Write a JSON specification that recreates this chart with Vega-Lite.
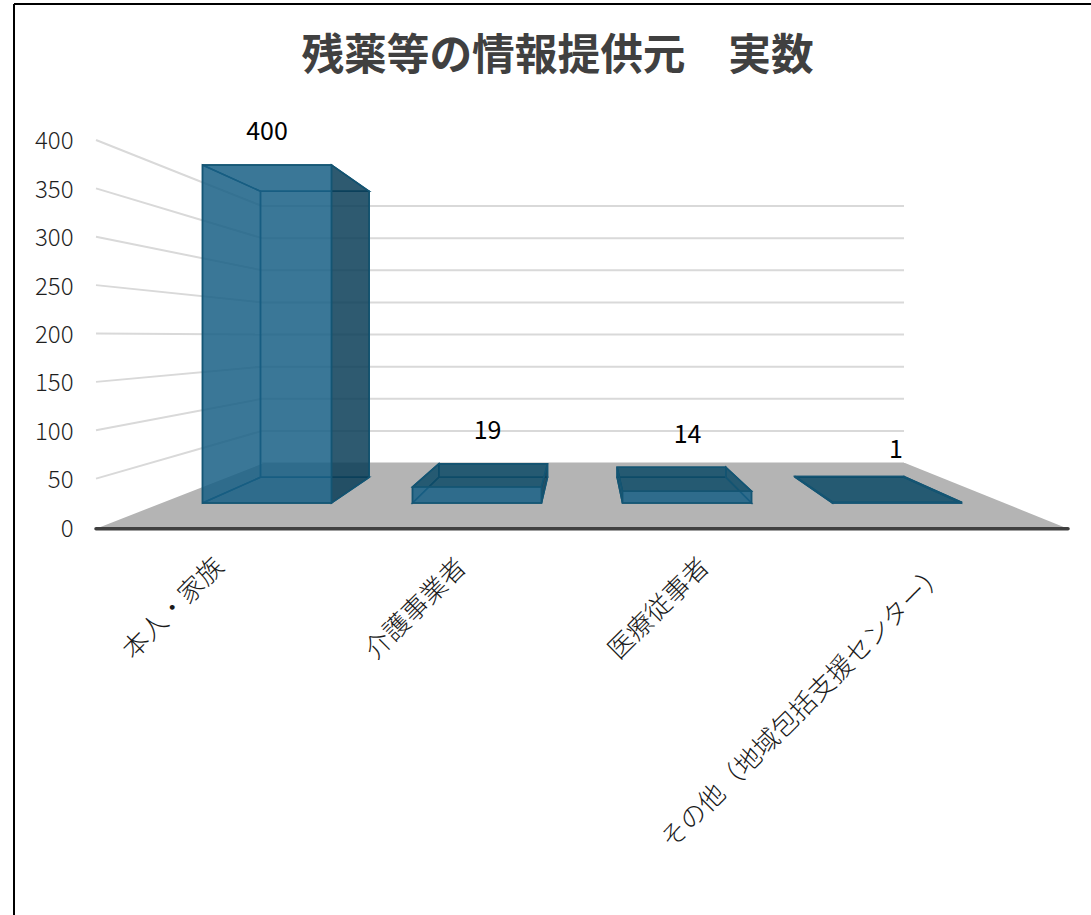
{
  "$schema": "https://vega.github.io/schema/vega-lite/v6.json",
  "width": 1091,
  "height": 915,
  "padding": 0,
  "autosize": "none",
  "background": "white",
  "view": {"stroke": null},
  "title": {
    "text": "残薬等の情報提供元　実数",
    "anchor": "middle",
    "frame": "group",
    "offset": -113,
    "dx": 12,
    "baseline": "alphabetic",
    "font": "Noto Sans CJK JP",
    "fontSize": 42.7,
    "fontWeight": "bold",
    "color": "#404040"
  },
  "resolve": {"axis": {"y": "independent"}},
  "data": {
    "values": [
      {"category": "本人・家族", "value": 400},
      {"category": "介護事業者", "value": 19},
      {"category": "医療従事者", "value": 14},
      {"category": "その他（地域包括支援センター）", "value": 1}
    ]
  },
  "transform": [
    {"window": [{"op": "row_number", "as": "n"}]},
    {"calculate": "datum.n - 1", "as": "i"},
    {"calculate": "[0, 1]", "as": "depth"},
    {"flatten": ["depth"]},
    {"calculate": "datum.depth == 0 ? 202.5 + 210 * datum.i : 260.5 + 178.3 * datum.i", "as": "xl"},
    {"calculate": "datum.xl + (datum.depth == 0 ? 129 : 108.7)", "as": "xr"},
    {"calculate": "datum.depth == 0 ? 24.81 : 51.37", "as": "base"},
    {"calculate": "datum.base + datum.value * (datum.depth == 0 ? 0.8734 : 0.739)", "as": "top"}
  ],
  "layer": [
    {
      "description": "Side wall gridlines running back from the value axis",
      "data": {"values": [{"tick": 50}, {"tick": 100}, {"tick": 150}, {"tick": 200}, {"tick": 250}, {"tick": 300}, {"tick": 350}, {"tick": 400}]},
      "transform": [
        {"calculate": "96", "as": "x0"},
        {"calculate": "262", "as": "x1"},
        {"calculate": "66.15 + 0.664 * datum.tick", "as": "backTick"}
      ],
      "mark": {"type": "rule", "stroke": "#d9d9d9", "strokeWidth": 2},
      "encoding": {
        "x": {"field": "x0", "type": "quantitative", "scale": {"domain": [0, 1091], "nice": false, "zero": false}, "axis": null},
        "x2": {"field": "x1"},
        "y": {
          "field": "tick",
          "type": "quantitative",
          "scale": {"domain": [-401.03, 544.7], "nice": false, "zero": false},
          "axis": {
            "title": null,
            "orient": "left",
            "values": [0, 50, 100, 150, 200, 250, 300, 350, 400],
            "domain": false,
            "ticks": false,
            "grid": false,
            "offset": -73,
            "labelPadding": 0,
            "labelOffset": 2,
            "labelFont": "Noto Sans CJK JP",
            "labelFontSize": 24,
            "labelFontWeight": 300,
            "labelColor": "#1f1f1f"
          }
        },
        "y2": {"field": "backTick"}
      }
    },
    {
      "description": "Back wall gridlines",
      "data": {"values": [{"tick": 0}, {"tick": 50}, {"tick": 100}, {"tick": 150}, {"tick": 200}, {"tick": 250}, {"tick": 300}, {"tick": 350}, {"tick": 400}]},
      "transform": [
        {"calculate": "262", "as": "x0"},
        {"calculate": "904", "as": "x1"},
        {"calculate": "66.15 + 0.664 * datum.tick", "as": "backTick"}
      ],
      "mark": {"type": "rule", "stroke": "#d9d9d9", "strokeWidth": 2},
      "encoding": {
        "x": {"field": "x0", "type": "quantitative", "scale": {"domain": [0, 1091], "nice": false, "zero": false}, "axis": null},
        "x2": {"field": "x1"},
        "y": {"field": "backTick", "type": "quantitative", "scale": {"domain": [-401.03, 544.7], "nice": false, "zero": false}, "axis": null}
      }
    },
    {
      "description": "Grey floor of the box",
      "data": {"values": [{"depth": 0}, {"depth": 1}]},
      "transform": [
        {"calculate": "datum.depth == 0 ? 96 : 264", "as": "xl"},
        {"calculate": "datum.depth == 0 ? 1068 : 905", "as": "xr"},
        {"calculate": "datum.depth == 0 ? -1.8 : 66.15", "as": "level"}
      ],
      "mark": {"type": "area", "orient": "horizontal", "fill": "#b4b4b4"},
      "encoding": {
        "y": {"field": "level", "type": "quantitative", "scale": {"domain": [-401.03, 544.7], "nice": false, "zero": false}, "axis": null},
        "x": {"field": "xl", "type": "quantitative", "scale": {"domain": [0, 1091], "nice": false, "zero": false}, "axis": null},
        "x2": {"field": "xr"}
      }
    },
    {
      "description": "Front edge of the floor",
      "data": {"values": [{"edge": "front"}]},
      "transform": [
        {"calculate": "96", "as": "x0"},
        {"calculate": "1068", "as": "x1"},
        {"calculate": "-1.8", "as": "level"}
      ],
      "mark": {"type": "rule", "stroke": "#404040", "strokeWidth": 3.5, "strokeCap": "round"},
      "encoding": {
        "x": {"field": "x0", "type": "quantitative", "scale": {"domain": [0, 1091], "nice": false, "zero": false}, "axis": null},
        "x2": {"field": "x1"},
        "y": {"field": "level", "type": "quantitative", "scale": {"domain": [-401.03, 544.7], "nice": false, "zero": false}, "axis": null}
      }
    },
    {
      "description": "Bottom edges of each column",
      "mark": {"type": "area", "orient": "horizontal", "fillOpacity": 0, "fill": "#185f85", "stroke": "#145573", "strokeWidth": 1.5},
      "encoding": {
        "detail": {"field": "category"},
        "y": {"field": "base", "type": "quantitative", "scale": {"domain": [-401.03, 544.7], "nice": false, "zero": false}, "axis": null},
        "x": {"field": "xl", "type": "quantitative", "scale": {"domain": [0, 1091], "nice": false, "zero": false}, "axis": null},
        "x2": {"field": "xr"}
      }
    },
    {
      "description": "Back face outline of each column",
      "transform": [{"filter": "datum.depth == 1"}],
      "mark": {"type": "rect", "fillOpacity": 0, "stroke": "#145573", "strokeWidth": 1.5},
      "encoding": {
        "x": {"field": "xl", "type": "quantitative", "scale": {"domain": [0, 1091], "nice": false, "zero": false}, "axis": null},
        "x2": {"field": "xr"},
        "y": {"field": "base", "type": "quantitative", "scale": {"domain": [-401.03, 544.7], "nice": false, "zero": false}, "axis": null},
        "y2": {"field": "top"}
      }
    },
    {
      "description": "Left face of each column, shaded only where it shows beside a short column",
      "mark": {"type": "area", "fill": "#0c4a66", "stroke": "#145573", "strokeWidth": 1.5},
      "encoding": {
        "detail": {"field": "category"},
        "x": {"field": "xl", "type": "quantitative", "scale": {"domain": [0, 1091], "nice": false, "zero": false}, "axis": null},
        "y": {"field": "base", "type": "quantitative", "scale": {"domain": [-401.03, 544.7], "nice": false, "zero": false}, "axis": null},
        "y2": {"field": "top"},
        "fillOpacity": {"condition": {"test": "datum.i == 2", "value": 0.85}, "value": 0}
      }
    },
    {
      "description": "Top face of each column; on the tall column it sits inside the front and side faces",
      "mark": {"type": "area", "orient": "horizontal", "fill": "#0c4a66", "stroke": "#145573", "strokeWidth": 1.5},
      "encoding": {
        "detail": {"field": "category"},
        "y": {"field": "top", "type": "quantitative", "scale": {"domain": [-401.03, 544.7], "nice": false, "zero": false}, "axis": null},
        "x": {"field": "xl", "type": "quantitative", "scale": {"domain": [0, 1091], "nice": false, "zero": false}, "axis": null},
        "x2": {"field": "xr"},
        "fillOpacity": {"condition": {"test": "datum.value > 100", "value": 0}, "value": 0.85}
      }
    },
    {
      "description": "Right face of each column",
      "mark": {"type": "area", "fill": "#093d57", "stroke": "#145573", "strokeWidth": 1.5},
      "encoding": {
        "detail": {"field": "category"},
        "x": {"field": "xr", "type": "quantitative", "scale": {"domain": [0, 1091], "nice": false, "zero": false}, "axis": null},
        "y": {"field": "base", "type": "quantitative", "scale": {"domain": [-401.03, 544.7], "nice": false, "zero": false}, "axis": null},
        "y2": {"field": "top"},
        "fillOpacity": {"condition": {"test": "datum.i >= 2", "value": 0}, "value": 0.85}
      }
    },
    {
      "description": "Front face of each column",
      "transform": [{"filter": "datum.depth == 0"}],
      "mark": {"type": "rect", "fill": "#185f85", "fillOpacity": 0.85, "stroke": "#145573", "strokeWidth": 1.5},
      "encoding": {
        "x": {"field": "xl", "type": "quantitative", "scale": {"domain": [0, 1091], "nice": false, "zero": false}, "axis": null},
        "x2": {"field": "xr"},
        "y": {"field": "base", "type": "quantitative", "scale": {"domain": [-401.03, 544.7], "nice": false, "zero": false}, "axis": null},
        "y2": {"field": "top"}
      }
    },
    {
      "description": "Value labels above the columns",
      "transform": [
        {"filter": "datum.depth == 0"},
        {"calculate": "[267, 487.5, 687.5, 896][datum.i]", "as": "labelX"},
        {"calculate": "[408.5, 99.5, 95.5, 79.5][datum.i]", "as": "labelY"}
      ],
      "mark": {"type": "text", "font": "Noto Sans CJK JP", "fontSize": 25, "fill": "#000000", "align": "center", "baseline": "middle"},
      "encoding": {
        "x": {"field": "labelX", "type": "quantitative", "scale": {"domain": [0, 1091], "nice": false, "zero": false}, "axis": null},
        "y": {"field": "labelY", "type": "quantitative", "scale": {"domain": [-401.03, 544.7], "nice": false, "zero": false}, "axis": null},
        "text": {"field": "value", "type": "quantitative"}
      }
    },
    {
      "description": "Slanted category labels below the floor",
      "transform": [
        {"filter": "datum.depth == 0"},
        {"calculate": "[219.5, 462, 705, 942][datum.i]", "as": "labelX"},
        {"calculate": "[-37, -37.5, -37, -43][datum.i]", "as": "labelY"}
      ],
      "mark": {"type": "text", "font": "Noto Sans CJK JP", "fontWeight": 300, "fontSize": 26, "fill": "#1a1a1a", "align": "right", "baseline": "middle", "angle": 315},
      "encoding": {
        "x": {"field": "labelX", "type": "quantitative", "scale": {"domain": [0, 1091], "nice": false, "zero": false}, "axis": null},
        "y": {"field": "labelY", "type": "quantitative", "scale": {"domain": [-401.03, 544.7], "nice": false, "zero": false}, "axis": null},
        "text": {"field": "category", "type": "nominal"}
      }
    },
    {
      "description": "Outer frame, left edge",
      "data": {"values": [{"x": 14, "from": 540.6, "to": -401}]},
      "mark": {"type": "rule", "stroke": "#000000", "strokeWidth": 2},
      "encoding": {
        "x": {"field": "x", "type": "quantitative", "scale": {"domain": [0, 1091], "nice": false, "zero": false}, "axis": null},
        "y": {"field": "from", "type": "quantitative", "scale": {"domain": [-401.03, 544.7], "nice": false, "zero": false}, "axis": null},
        "y2": {"field": "to"}
      }
    },
    {
      "description": "Outer frame, top edge",
      "data": {"values": [{"from": 14, "to": 1091, "level": 540.6}]},
      "mark": {"type": "rule", "stroke": "#000000", "strokeWidth": 2},
      "encoding": {
        "x": {"field": "from", "type": "quantitative", "scale": {"domain": [0, 1091], "nice": false, "zero": false}, "axis": null},
        "x2": {"field": "to"},
        "y": {"field": "level", "type": "quantitative", "scale": {"domain": [-401.03, 544.7], "nice": false, "zero": false}, "axis": null}
      }
    }
  ]
}
